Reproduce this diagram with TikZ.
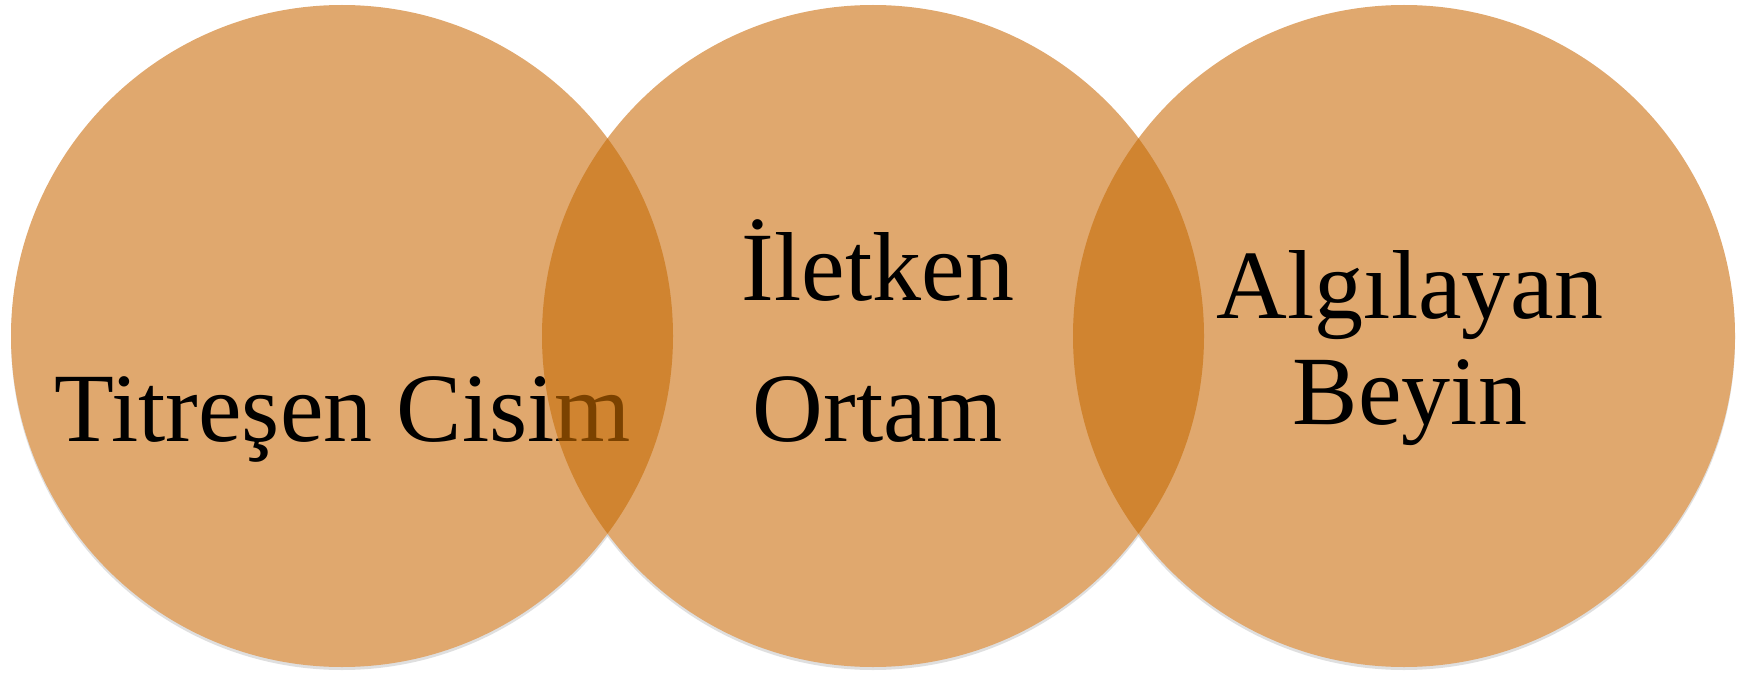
\documentclass[tikz,border=0pt]{standalone}
\usepackage{fontspec}
\setmainfont{Liberation Serif}
\definecolor{single}{HTML}{E0A86E}
\definecolor{lens}{HTML}{D08430}
\definecolor{lenstext}{HTML}{7B4200}
\begin{document}
\begin{tikzpicture}[x=1pt,y=-1pt,
  disc/.style={fill=single},
  shade/.style={fill=black!25,opacity=0.5},
  label/.style={font=\fontsize{98}{118}\selectfont,anchor=base,inner sep=0pt}]
\useasboundingbox (0,0) rectangle (1756,674);
\coordinate (c1) at (342,336);
\coordinate (c2) at (873,336);
\coordinate (c3) at (1404,336);
% soft shadows
\foreach \c in {c1,c2,c3}{
  \fill[shade] ([yshift=-3pt]\c) circle (331);
}
% discs
\foreach \c in {c1,c2,c3}{
  \fill[disc] (\c) circle (331);
}
% first label
\node[label] (t1) at (343,441) {Titreşen Cisim};
% lens between 1 and 2
\begin{scope}
  \clip (c1) circle (331);
  \fill[lens] (c2) circle (331);
  \clip (c2) circle (331);
  \node[label,text=lenstext] (t1b) at (343,441) {Titreşen Cisim};
\end{scope}
% lens between 2 and 3
\begin{scope}
  \clip (c2) circle (331);
  \fill[lens] (c3) circle (331);
\end{scope}
% other labels
\node[label] (t2a) at (878,300) {İletken};
\node[label] (t2b) at (878,441) {Ortam};
\node[label] (t3a) at (1410,318) {Algılayan};
\node[label] (t3b) at (1410,424) {Beyin};
\end{tikzpicture}
\end{document}
